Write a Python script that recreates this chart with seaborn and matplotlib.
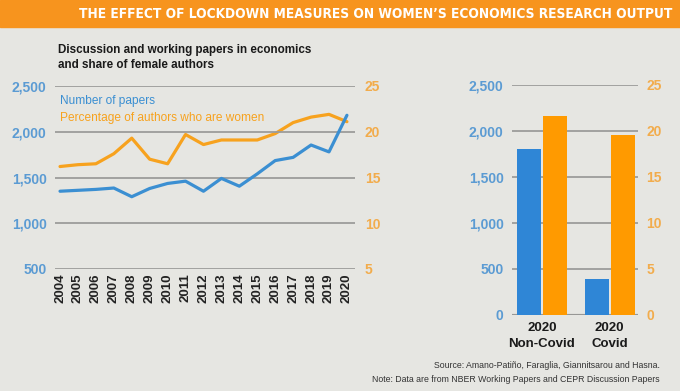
import seaborn as sns
import matplotlib.pyplot as plt
import pandas as pd
from matplotlib.patches import Rectangle

# data
years = list(range(2004, 2021))
papers = [1350, 1360, 1370, 1385, 1290, 1380, 1435, 1460, 1350, 1490,
          1405, 1540, 1685, 1720, 1855, 1780, 2180]
share_women = [16.2, 16.4, 16.5, 17.6, 19.3, 17.0, 16.5, 19.7, 18.6, 19.1,
               19.1, 19.1, 19.8, 21.0, 21.6, 21.9, 21.1]

bar_groups = ["2020\nNon-Covid", "2020\nCovid"]
bar_papers = [1800, 390]
bar_share = [21.6, 19.6]

left_ticks = [500, 1000, 1500, 2000, 2500]
right_ticks = [5, 10, 15, 20, 25]
bar_left_ticks = [0, 500, 1000, 1500, 2000, 2500]
bar_right_ticks = [0, 5, 10, 15, 20, 25]

BG = "#e6e6e2"
BAND = "#f7941e"
BLUE = "#3b8fd2"
ORANGE = "#f7a21e"
BLUE_BAR = "#2f86d6"
ORANGE_BAR = "#ff9a00"
BLUE_TXT = "#5b9bd3"
ORANGE_TXT = "#f2ac4c"
GRID = "#9c9c9a"

sns.set_style("white", {"axes.facecolor": BG})
plt.rcParams["font.family"] = ["Liberation Sans", "DejaVu Sans"]

fig = plt.figure(figsize=(6.8, 3.91), dpi=100, facecolor=BG)
W, H = 680, 391

# orange title band
fig.patches.append(Rectangle((0, 1 - 27 / H), 1, 27 / H, transform=fig.transFigure,
                             color=BAND, zorder=0))
fig.text(672 / W, 1 - 14 / H,
         "THE EFFECT OF LOCKDOWN MEASURES ON WOMEN\u2019S ECONOMICS RESEARCH OUTPUT",
         ha="right", va="center", color="white", weight="bold", fontsize=9.8,
         family=["DejaVu Sans"], fontstretch="condensed")

fig.text(58 / W, 1 - 44 / H,
         "Discussion and working papers in economics\nand share of female authors",
         ha="left", va="top", color="#1a1a1a", weight="bold", fontsize=8.4,
         linespacing=1.3)

# ---- line chart ----
ax1 = fig.add_axes([55 / W, 1 - 269 / H, 300 / W, 183 / H])
ax1b = ax1.twinx()
sns.lineplot(x=years, y=share_women, ax=ax1b, color=ORANGE, lw=2.3)
sns.lineplot(x=years, y=papers, ax=ax1, color=BLUE, lw=2.3)
ax1.set_zorder(ax1b.get_zorder() + 1)
ax1.patch.set_visible(False)

ax1.set_ylim(500, 2500)
ax1b.set_ylim(5, 25)
ax1.set_xlim(2003.72, 2020.45)
ax1.set_yticks(left_ticks)
ax1.set_yticklabels([f"{v:,}" for v in left_ticks])
ax1b.set_yticks(right_ticks)
ax1.set_xticks(years)
ax1.set_xticklabels([str(y) for y in years], rotation=90, fontsize=9.5,
                    weight="bold", color="#222222")
ax1b.grid(False)
ax1.yaxis.grid(True, color=GRID, lw=1.3)
ax1.xaxis.grid(False)
for a in (ax1, ax1b):
    for s in a.spines.values():
        s.set_visible(False)
    a.set_xlabel("")
    a.set_ylabel("")
ax1.tick_params(axis="y", length=0, pad=6, labelcolor=BLUE_TXT, labelsize=10)
ax1.tick_params(axis="x", length=0, pad=3)
ax1b.tick_params(axis="y", length=0, pad=7, labelcolor=ORANGE_TXT, labelsize=10)
for a in (ax1, ax1b):
    for t in a.get_yticklabels():
        t.set_fontweight("bold")

ax1.text(5 / 300, (269 - 101) / 183, "Number of papers", transform=ax1.transAxes,
         color=BLUE, fontsize=8.6, va="center", ha="left")
ax1.text(5 / 300, (269 - 118) / 183, "Percentage of authors who are women",
         transform=ax1.transAxes, color=ORANGE, fontsize=8.6, va="center", ha="left")

# ---- bar chart ----
df = pd.DataFrame({
    "group": bar_groups * 2,
    "series": ["papers"] * 2 + ["share"] * 2,
    "value": bar_papers + bar_share,
})
pal = {"papers": BLUE_BAR, "share": ORANGE_BAR}

ax2 = fig.add_axes([512 / W, 1 - 315 / H, 126 / W, 230 / H])
ax2b = ax2.twinx()
sns.barplot(data=df[df.series == "papers"], x="group", y="value", hue="series",
            order=bar_groups, hue_order=["papers", "share"], palette=pal,
            width=0.77, gap=0.08, dodge=True, ax=ax2, legend=False, saturation=1,
            linewidth=0)
sns.barplot(data=df[df.series == "share"], x="group", y="value", hue="series",
            order=bar_groups, hue_order=["papers", "share"], palette=pal,
            width=0.77, gap=0.08, dodge=True, ax=ax2b, legend=False, saturation=1,
            linewidth=0)
ax2.set_ylim(0, 2500)
ax2b.set_ylim(0, 25)
ax2.set_xlim(-0.44, 1.42)
ax2.set_yticks(bar_left_ticks)
ax2.set_yticklabels([f"{v:,}" for v in bar_left_ticks])
ax2b.set_yticks(bar_right_ticks)
ax2.yaxis.grid(True, color=GRID, lw=1.3)
ax2.xaxis.grid(False)
ax2b.grid(False)
ax2.set_axisbelow(True)
for a in (ax2, ax2b):
    for s in a.spines.values():
        s.set_visible(False)
    a.set_xlabel("")
    a.set_ylabel("")
ax2.axhline(0, color="#6e6e6e", lw=1.5, zorder=0.5)
ax2.tick_params(axis="y", length=0, pad=6, labelcolor=BLUE_TXT, labelsize=10)
ax2b.tick_params(axis="y", length=0, pad=6, labelcolor=ORANGE_TXT, labelsize=10)
for a in (ax2, ax2b):
    for t in a.get_yticklabels():
        t.set_fontweight("bold")
ax2.tick_params(axis="x", length=0, pad=5)
ax2.set_xticks(range(len(bar_groups)))
ax2.set_xticklabels(bar_groups, fontsize=9.5, weight="bold", color="#1a1a1a",
                    linespacing=1.45)

fig.text(660 / W, 1 - 366 / H,
         "Source: Amano-Pati\u00f1o, Faraglia, Giannitsarou and Hasna.",
         ha="right", va="center", fontsize=6.3, color="#333333")
fig.text(660 / W, 1 - 379 / H,
         "Note: Data are from NBER Working Papers and CEPR Discussion Papers",
         ha="right", va="center", fontsize=6.3, color="#333333")

fig.savefig("out.png", dpi=100, facecolor=BG)
